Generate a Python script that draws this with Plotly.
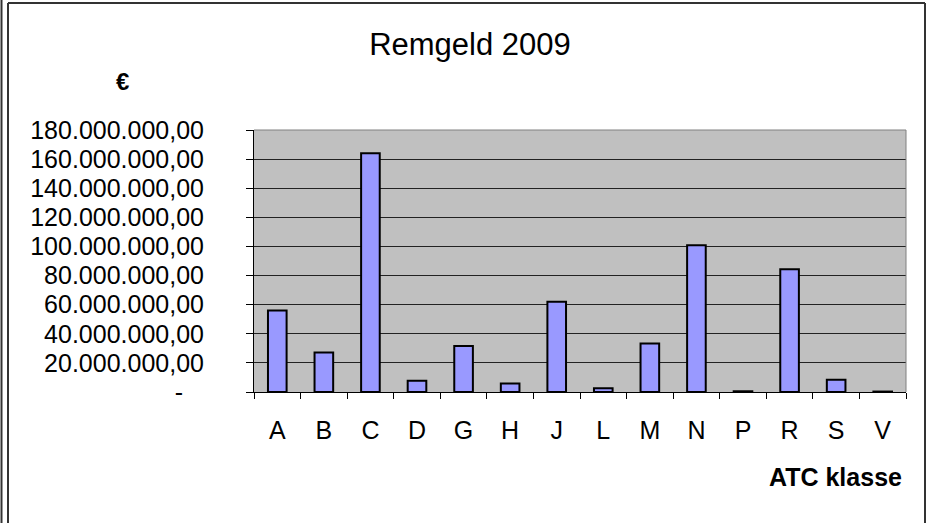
import plotly.graph_objects as go

# ATC classes and co-payment (remgeld) in euro, 2009
klassen = ["A", "B", "C", "D", "G", "H", "J", "L", "M", "N", "P", "R", "S", "V"]
remgeld = [56.0e6, 27.2e6, 164.0e6, 7.8e6, 31.6e6, 5.9e6, 62.0e6, 2.5e6,
           33.4e6, 100.9e6, 0.5e6, 84.4e6, 8.4e6, 0.3e6]

tick_vals = [0, 20e6, 40e6, 60e6, 80e6, 100e6, 120e6, 140e6, 160e6, 180e6]
tick_text = ["-\u00a0\u00a0\u00a0", "20.000.000,00", "40.000.000,00", "60.000.000,00",
             "80.000.000,00", "100.000.000,00", "120.000.000,00", "140.000.000,00",
             "160.000.000,00", "180.000.000,00"]

W, H = 930, 523
L, R, T, B = 254, 906, 130, 392


def px(x):
    return (x - L) / (R - L)


def py(y):
    return (B - y) / (B - T)


fnt = "Liberation Sans, Arial, sans-serif"

fig = go.Figure(go.Bar(
    x=klassen, y=remgeld,
    marker=dict(color="#9999FF", line=dict(color="black", width=2)),
))

fig.update_layout(
    width=W, height=H,
    margin=dict(l=L, r=W - R, t=T, b=H - B),
    paper_bgcolor="white",
    plot_bgcolor="#C0C0C0",
    bargap=0.6,
    showlegend=False,
    font=dict(family=fnt, size=25, color="black"),
    title=dict(text="Remgeld 2009", x=470 / W, y=1 - 44 / H,
               xanchor="center", yanchor="middle",
               font=dict(family=fnt, size=31, color="black")),
)

fig.update_xaxes(
    showline=True, linecolor="black", linewidth=1,
    ticks="outside", tickson="boundaries", ticklen=6, tickcolor="black",
    ticklabelstandoff=16,
    showgrid=False,
)
fig.update_yaxes(
    range=[0, 180e6], tickvals=tick_vals, ticktext=tick_text,
    showline=True, linecolor="black", linewidth=1,
    ticks="outside", ticklen=7, tickcolor="black",
    ticklabelstandoff=37,
    showgrid=True, gridcolor="#222222", gridwidth=1,
    zeroline=False,
)

# plot area border (top and right) in gray
fig.add_shape(type="line", xref="paper", yref="paper", x0=0, x1=1, y0=1, y1=1,
              line=dict(color="#808080", width=1))
fig.add_shape(type="line", xref="paper", yref="paper", x0=1, x1=1, y0=0, y1=1,
              line=dict(color="#808080", width=1))

# chart frame: double left line, top and right lines
fig.add_shape(type="line", xref="paper", yref="paper", x0=px(1.5), x1=px(1.5),
              y0=py(0), y1=py(H), line=dict(color="#333333", width=2))
fig.add_shape(type="line", xref="paper", yref="paper", x0=px(8), x1=px(8),
              y0=py(3), y1=py(H), line=dict(color="#333333", width=2))
fig.add_shape(type="line", xref="paper", yref="paper", x0=px(8), x1=px(925),
              y0=py(3), y1=py(3), line=dict(color="#333333", width=2))
fig.add_shape(type="line", xref="paper", yref="paper", x0=px(925), x1=px(925),
              y0=py(3), y1=py(H), line=dict(color="#333333", width=2))

fig.add_annotation(text="<b>€</b>", xref="paper", yref="paper",
                   x=px(122), y=py(82), xanchor="center", yanchor="middle",
                   showarrow=False, font=dict(family=fnt, size=24, color="black"))
fig.add_annotation(text="<b>ATC klasse</b>", xref="paper", yref="paper",
                   x=px(904), y=py(477), xanchor="right", yanchor="middle",
                   showarrow=False, font=dict(family=fnt, size=25, color="black"))

fig.write_html("out.html", config={"displayModeBar": False},
               post_script="document.body.style.margin='0';")
